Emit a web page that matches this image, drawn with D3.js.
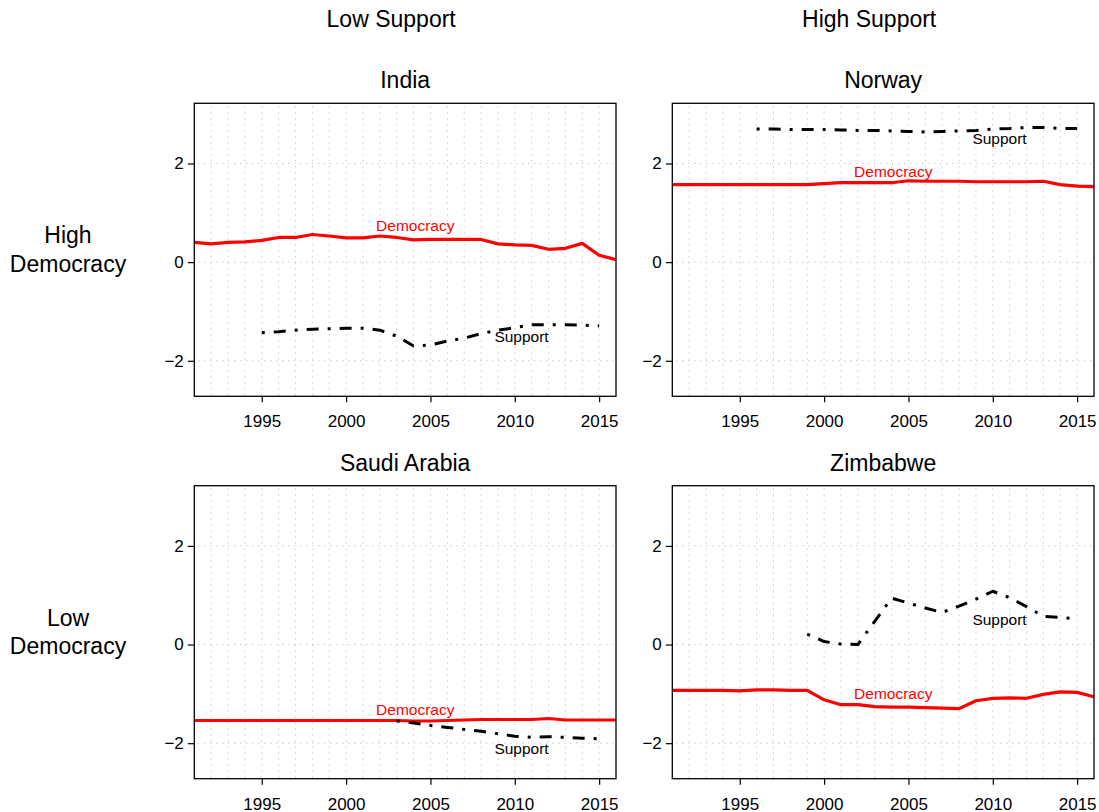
<!DOCTYPE html>
<html><head><meta charset="utf-8">
<script src="https://cdn.jsdelivr.net/npm/d3@7"></script>
<style>
html,body{margin:0;padding:0;background:#fff;}
text{font-family:"Liberation Sans",Arial,Helvetica,sans-serif;}
</style></head>
<body><svg id="chart" width="1099" height="812"></svg>
<script>
// ---- data ----
const years = [1991,1992,1993,1994,1995,1996,1997,1998,1999,2000,2001,2002,2003,2004,2005,2006,2007,2008,2009,2010,2011,2012,2013,2014,2015,2016];
const columnTitles = ["Low Support","High Support"];
const rowTitles = [["High","Democracy"],["Low","Democracy"]];
const countries = ["India","Norway","Saudi Arabia","Zimbabwe"];
const xTicks = [1995,2000,2005,2010,2015];
const yTicks = [-2,0,2];
const gridYears = [1992,1993,1994,1995,1996,1997,1998,1999,2000,2001,2002,2003,2004,2005,2006,2007,2008,2009,2010,2011,2012,2013,2014,2015];

const indiaDemocracy = [0.40,0.37,0.40,0.41,0.44,0.50,0.50,0.56,0.53,0.49,0.49,0.53,0.50,0.45,0.46,0.46,0.46,0.46,0.37,0.35,0.34,0.26,0.28,0.38,0.14,0.05];
const norwayDemocracy = [1.57,1.57,1.57,1.57,1.57,1.57,1.57,1.57,1.57,1.59,1.61,1.61,1.61,1.61,1.65,1.64,1.64,1.64,1.63,1.63,1.63,1.63,1.64,1.57,1.54,1.53];
const saudiDemocracy = [-1.54,-1.54,-1.54,-1.54,-1.54,-1.54,-1.54,-1.54,-1.54,-1.54,-1.54,-1.54,-1.54,-1.55,-1.55,-1.54,-1.53,-1.52,-1.52,-1.52,-1.52,-1.50,-1.53,-1.53,-1.53,-1.53];
const zimbabweDemocracy = [-0.93,-0.93,-0.93,-0.93,-0.94,-0.92,-0.92,-0.93,-0.93,-1.12,-1.22,-1.22,-1.26,-1.27,-1.27,-1.28,-1.29,-1.30,-1.14,-1.09,-1.08,-1.09,-1.01,-0.96,-0.97,-1.06];

const indiaSupportYears = [1995,1996,1997,1998,1999,2000,2001,2002,2003,2004,2005,2006,2007,2008,2009,2010,2011,2012,2013,2014,2015];
const indiaSupport = [-1.43,-1.41,-1.38,-1.36,-1.35,-1.34,-1.34,-1.38,-1.50,-1.70,-1.68,-1.60,-1.54,-1.45,-1.38,-1.33,-1.27,-1.27,-1.27,-1.28,-1.29];
const norwaySupportYears = [1996,1997,1998,1999,2000,2001,2002,2003,2004,2005,2006,2007,2008,2009,2010,2011,2012,2013,2014,2015];
const norwaySupport = [2.70,2.70,2.69,2.69,2.69,2.68,2.67,2.67,2.66,2.65,2.64,2.65,2.66,2.67,2.70,2.71,2.73,2.73,2.71,2.71];
const saudiSupportYears = [2003,2004,2005,2006,2007,2008,2009,2010,2011,2012,2013,2014,2015];
const saudiSupport = [-1.55,-1.59,-1.64,-1.68,-1.72,-1.76,-1.81,-1.86,-1.88,-1.87,-1.88,-1.90,-1.91];
const zimbabweSupportYears = [1999,2000,2001,2002,2003,2004,2005,2006,2007,2008,2009,2010,2011,2012,2013,2014,2015];
const zimbabweSupport = [0.21,0.06,0.01,0.00,0.47,0.94,0.84,0.74,0.65,0.78,0.92,1.08,0.95,0.77,0.57,0.55,0.52];

// label anchor points in data coordinates [year, value]
const democracyLabelAt = [[2004.1,0.75],[2004.1,1.83],[2004.1,-1.32],[2004.1,-1.00]];
const supportLabelAt = [[2010.4,-1.50],[2010.4,2.50],[2010.4,-2.11],[2010.4,0.50]];

// ---- build ----
const democracySeries = [indiaDemocracy, norwayDemocracy, saudiDemocracy, zimbabweDemocracy];
const supportSeries = [
  {yrs: indiaSupportYears, vals: indiaSupport},
  {yrs: norwaySupportYears, vals: norwaySupport},
  {yrs: saudiSupportYears, vals: saudiSupport},
  {yrs: zimbabweSupportYears, vals: zimbabweSupport}
];

const svg = d3.select("#chart");
const panelX = [194.3, 672.3], panelY = [103.3, 485.7];
const W = 421.7, H = 293;
const FONT_BIG = 23, FONT_TICK = 17, FONT_LAB = 15.5;

// column titles
columnTitles.forEach((t,i)=>{
  svg.append("text").attr("x", panelX[i] + W/2 - 14).attr("y", 27.3)
    .attr("text-anchor","middle").attr("font-size",FONT_BIG).attr("fill","#000").text(t);
});
// row titles
rowTitles.forEach((lines,r)=>{
  const base = panelY[r] + 140;
  lines.forEach((l,k)=>{
    svg.append("text").attr("x",68).attr("y", base + k*28.4)
      .attr("text-anchor","middle").attr("font-size",FONT_BIG).attr("fill","#000").text(l);
  });
});

countries.forEach((name, idx)=>{
  const col = idx % 2, row = Math.floor(idx/2);
  const x0 = panelX[col], y0 = panelY[row];
  const g = svg.append("g").attr("transform",`translate(${x0},${y0})`);
  const x = d3.scaleLinear().domain([1991,2016]).range([0,W]);
  const y = d3.scaleLinear().domain([-2.72,3.22]).range([H,0]);

  // title
  g.append("text").attr("x", W/2).attr("y", -15).attr("text-anchor","middle")
    .attr("font-size",FONT_BIG).attr("fill","#000").text(name);

  // grid
  const clipId = "clip"+idx;
  g.append("clipPath").attr("id",clipId).append("rect").attr("width",W).attr("height",H);
  const grid = g.append("g").attr("stroke","#b4b4b4").attr("stroke-width",1).attr("stroke-dasharray","1,5");
  grid.selectAll("line.v").data(gridYears).join("line").attr("class","v")
    .attr("x1",d=>x(d)).attr("x2",d=>x(d)).attr("y1",3).attr("y2",H);
  grid.selectAll("line.h").data(yTicks).join("line").attr("class","h")
    .attr("x1",4).attr("x2",W).attr("y1",d=>y(d)).attr("y2",d=>y(d));

  const plot = g.append("g").attr("clip-path",`url(#${clipId})`);
  // democracy line
  plot.append("path").datum(years.map((yr,i)=>[yr, democracySeries[idx][i]]))
    .attr("fill","none").attr("stroke","#ff0000").attr("stroke-width",3.2)
    .attr("stroke-linejoin","round")
    .attr("d", d3.line().x(d=>x(d[0])).y(d=>y(d[1])));
  // support line
  const s = supportSeries[idx];
  plot.append("path").datum(s.yrs.map((yr,i)=>[yr, s.vals[i]]))
    .attr("fill","none").attr("stroke","#000").attr("stroke-width",3)
    .attr("stroke-dasharray","3,9,12,9").attr("stroke-linejoin","round")
    .attr("d", d3.line().x(d=>x(d[0])).y(d=>y(d[1])));

  // labels
  const dl = democracyLabelAt[idx], sl = supportLabelAt[idx];
  g.append("text").attr("x",x(dl[0])).attr("y",y(dl[1])).attr("dy","0.36em")
    .attr("text-anchor","middle").attr("font-size",FONT_LAB).attr("fill","#ff0000").text("Democracy");
  g.append("text").attr("x",x(sl[0])).attr("y",y(sl[1])).attr("dy","0.36em")
    .attr("text-anchor","middle").attr("font-size",FONT_LAB).attr("fill","#000").text("Support");

  // box
  g.append("rect").attr("width",W).attr("height",H).attr("fill","none").attr("stroke","#000").attr("stroke-width",1.3);

  // axes
  const xa = g.append("g").attr("transform",`translate(0,${H})`)
    .call(d3.axisBottom(x).tickValues(xTicks).tickFormat(d3.format("d")).tickSize(6).tickPadding(13));
  xa.select(".domain").remove();
  xa.selectAll("text").attr("font-size",FONT_TICK).attr("font-family",null).attr("fill","#000");
  xa.selectAll("line").attr("stroke","#000").attr("stroke-width",1.2);

  const ya = g.append("g")
    .call(d3.axisLeft(y).tickValues(yTicks).tickFormat(d=> d<0 ? "\u2212"+Math.abs(d) : String(d)).tickSize(6.5).tickPadding(4));
  ya.select(".domain").remove();
  ya.selectAll("text").attr("font-size",FONT_TICK).attr("font-family",null).attr("fill","#000");
  ya.selectAll("line").attr("stroke","#000").attr("stroke-width",1.2);
});
</script>
</body></html>
